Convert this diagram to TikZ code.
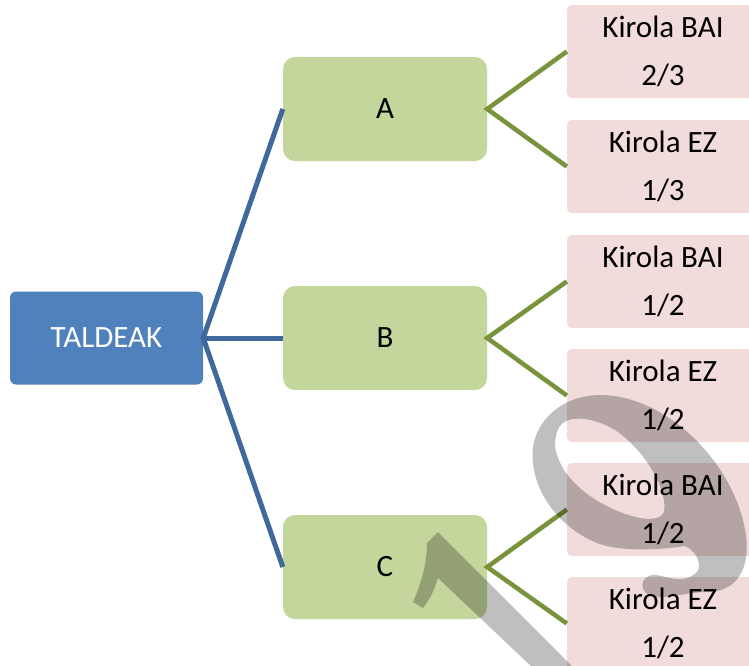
\documentclass[tikz,border=0pt]{standalone}
\usepackage{fontspec}
\setmainfont{Carlito}
\definecolor{rootfill}{HTML}{4F81BD}
\definecolor{rootline}{HTML}{41689A}
\definecolor{midfill}{HTML}{C3D69B}
\definecolor{midline}{HTML}{77933C}
\definecolor{leaffill}{HTML}{F2DCDB}
\begin{document}
\begin{tikzpicture}[x=1pt,y=-1pt,
  rootbox/.style={draw=none, fill=rootfill, rounded corners=6pt, minimum width=193pt, minimum height=93pt, inner sep=0pt, text=white, font=\fontsize{31}{38}\selectfont},
  midbox/.style={draw=none, fill=midfill, rounded corners=12pt, minimum width=204pt, minimum height=104pt, inner sep=0pt, text=black, font=\fontsize{31}{38}\selectfont},
  leafbox/.style={draw=none, fill=leaffill, rounded corners=5pt, minimum width=192pt, minimum height=93pt, inner sep=0pt, text=black, align=center, font=\fontsize{31}{48}\selectfont},
  rootlink/.style={draw=rootline, line width=5pt},
  midlink/.style={draw=midline, line width=4.5pt},
  wm/.style={fill=black!25, blend mode=multiply, even odd rule}
]
\clip (0,0) rectangle (749,665);
\fill[white] (0,0) rectangle (749,665);

\node[rootbox] (T) at (106.5,338) {TALDEAK};
\node[midbox] (A) at (385,109) {A};
\node[midbox] (B) at (385,338) {B};
\node[midbox] (C) at (385,567) {C};

\node[leafbox] (A1) at (663,51.5) {Kirola BAI\\2/3};
\node[leafbox] (A2) at (663,166.5) {Kirola EZ\\1/3};
\node[leafbox] (B1) at (663,281.5) {Kirola BAI\\1/2};
\node[leafbox] (B2) at (663,395.5) {Kirola EZ\\1/2};
\node[leafbox] (C1) at (663,509.5) {Kirola BAI\\1/2};
\node[leafbox] (C2) at (663,623.5) {Kirola EZ\\1/2};

\draw[rootlink] (A.west) -- (T.east) -- (C.west);
\draw[rootlink] (T.east) -- (B.west);
\draw[midlink] (A1.west) -- (A.east) -- (A2.west);
\draw[midlink] (B1.west) -- (B.east) -- (B2.west);
\draw[midlink] (C1.west) -- (C.east) -- (C2.west);

% watermark
\fill[wm] (438,532) -- (592,686) -- (552,686) -- (438,578)
   .. controls (432,595) .. (423,608) -- (413,602)
   .. controls (425,575) and (427,555) .. (427,543) -- cycle;
\fill[wm] (533,463) .. controls (528,425) and (560,395) .. (600,395)
   .. controls (660,395) and (720,450) .. (740,510)
   .. controls (755,555) and (745,592) .. (707,592)
   .. controls (690,592) and (670,598) .. (655,597)
   .. controls (638,595) and (638,574) .. (656,575)
   .. controls (670,577) and (683,585) .. (697,572)
   .. controls (702,566) and (698,552) .. (685,546)
   .. controls (660,550) and (620,552) .. (597,543)
   .. controls (565,530) and (537,500) .. (533,463) -- cycle
   (557,432) .. controls (562,414) and (590,415) .. (615,430)
   .. controls (645,450) and (668,490) .. (664,512)
   .. controls (660,522) and (640,520) .. (620,512)
   .. controls (590,500) and (565,480) .. (557,455)
   .. controls (554,447) and (555,438) .. (557,432) -- cycle;
\end{tikzpicture}
\end{document}
